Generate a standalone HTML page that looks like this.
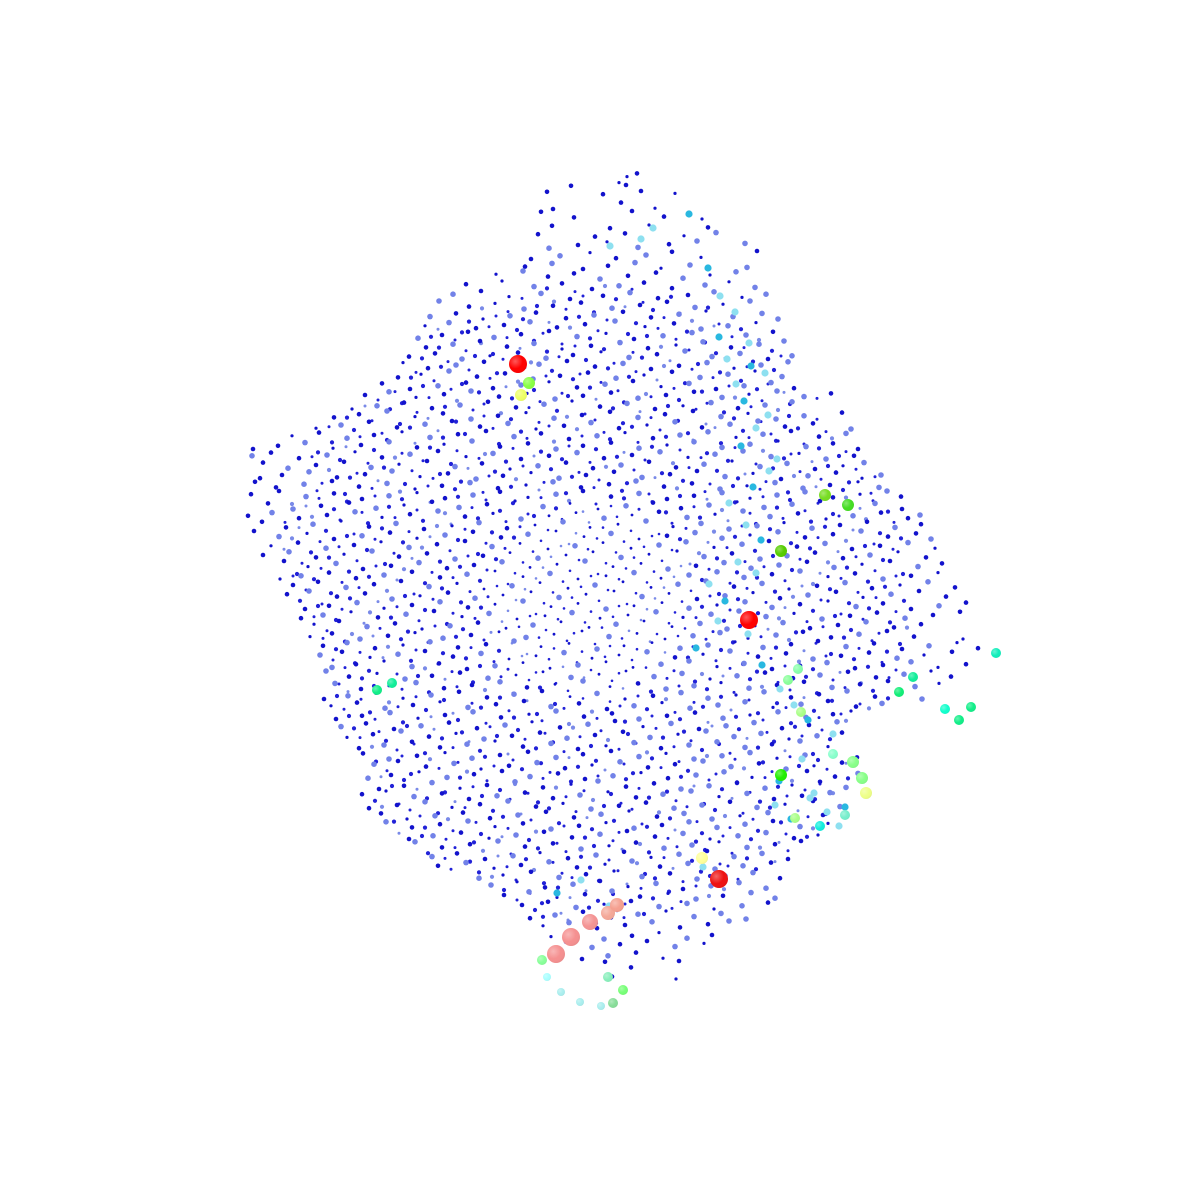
<!DOCTYPE html>
<html><head><meta charset="utf-8"><style>html,body{margin:0;background:#fff}svg{display:block}</style></head>
<body>
<svg id="chart" width="1200" height="1200" viewBox="0 0 1200 1200">
<defs>
<radialGradient id="shade" cx="35%" cy="35%" r="70%"><stop offset="0" stop-color="#fff" stop-opacity="0.35"/><stop offset="0.6" stop-color="#fff" stop-opacity="0"/><stop offset="1" stop-color="#000" stop-opacity="0.05"/></radialGradient>
</defs>
<g id="cloud"></g>
<g id="special"></g>
</svg>
<script>
const rowY = [16,17,18,19,20,21,22,23,24,25,26,27,28,29,30,31,32,33,34,35,36,37,38,39,40,41,42,43,44,45,46,47,48,49,50,51,52,53,54,55,56,57,58,59,60,61,62,63,64,65,66,67,68,69,70,71,72,73,74,75,76,77,78,79,80,81,82,83,84,85,86,87,88,89,90,91,92,93,94,95,96,97,98];
const rowX = [
[62.7,63.7,64.7],
[57.1,61.9,66.0,62.6],
[54.7,56.8,60.3,64.1,66.8,67.5],
[55.3,58.6,62.1,65.5,69.1],
[54.1,57.4,59.8,63.2,66.4,68.7,70.2],
[55.2,58.0,61.0,64.9,67.9,70.8],
[53.8,56.3,59.5,62.5,65.3,68.4,71.6],
[54.9,57.8,60.7,63.8,66.9,69.7,72.8,74.5],
[53.1,56.0,59.0,61.6,64.6,67.2,70.1,73.4,75.7],
[52.5,55.2,58.3,60.8,63.5,66.1,69.0,71.8,74.7],
[49.6,52.3,54.8,57.4,60.0,62.8,65.6,68.3,71.0,73.6,76.0],
[46.6,50.2,53.4,56.2,59.2,61.9,64.4,67.2,70.5,72.9,75.5],
[45.3,48.1,50.9,54.1,57.0,60.3,63.0,65.8,68.8,71.4,74.2,76.6],
[43.9,46.9,49.5,52.4,55.3,58.1,61.2,64.0,66.7,69.5,72.3,75.0],
[43.0,45.6,48.3,51.0,53.6,56.6,59.4,62.3,65.1,67.9,70.6,73.3,76.2,77.8],
[42.5,44.9,47.6,50.4,53.0,55.7,58.5,61.5,64.5,67.4,70.1,72.8,75.6],
[41.8,44.2,46.8,49.4,52.1,54.9,57.7,60.6,63.4,66.3,69.2,71.9,74.6,77.3],
[42.6,45.3,48.0,50.7,53.4,56.2,59.1,62.0,64.8,67.6,70.3,73.1,75.9,78.4],
[40.9,43.5,46.2,49.0,51.8,54.6,57.3,60.1,62.9,65.7,68.5,71.2,74.0,76.8,79.2],
[40.3,42.8,45.6,48.4,51.2,53.9,56.7,59.5,62.3,65.1,67.9,70.7,73.4,76.1,78.8],
[39.8,42.1,44.9,47.7,50.5,53.3,56.0,58.8,61.6,64.4,67.2,70.0,72.8,75.5,78.2],
[38.2,41.0,43.8,46.6,49.3,52.1,54.9,57.7,60.5,63.3,66.1,68.9,71.6,74.4,77.1,79.4],
[36.5,38.9,41.6,44.4,47.1,49.9,52.7,55.5,58.3,61.1,63.8,66.6,69.4,72.2,74.9,77.7,80.4,83.1],
[35.2,37.7,40.4,43.2,46.0,48.8,51.6,54.4,57.2,60.0,62.7,65.5,68.3,71.1,73.8,76.5,79.2],
[33.4,35.9,38.7,41.5,44.3,47.1,49.8,52.6,55.4,58.2,61.0,63.8,66.5,69.3,72.1,74.8,77.6,80.4,84.2],
[31.6,34.1,36.9,39.7,42.5,45.2,48.0,50.8,53.6,56.4,59.1,61.9,64.7,67.5,70.2,73.0,75.8,78.5,81.3,85.1],
[29.2,31.9,34.7,37.4,40.2,43.0,45.8,48.6,51.4,54.1,56.9,59.7,62.5,65.3,68.0,70.8,73.6,76.3,79.1,81.9,84.6],
[25.3,27.8,30.5,33.3,36.1,38.9,41.7,44.4,47.2,50.0,52.8,55.6,58.3,61.1,63.9,66.7,69.4,72.2,75.0,77.8,80.6,83.3,85.8],
[25.2,27.1,29.9,32.7,35.5,38.2,41.0,43.8,46.6,49.3,52.1,54.9,57.7,60.4,63.2,66.0,68.8,71.5,74.3,77.1,79.9,82.6,85.4],
[26.3,28.8,31.6,34.4,37.1,39.9,42.7,45.5,48.2,51.0,53.8,56.6,59.3,62.1,64.9,67.6,70.4,73.2,76.0,78.7,81.5,84.3,86.4],
[26.0,28.2,30.9,33.7,36.5,39.2,42.0,44.8,47.6,50.3,53.1,55.9,58.6,61.4,64.2,67.0,69.7,72.5,75.3,78.1,80.8,83.6,86.2,88.1],
[25.5,27.6,30.4,33.2,35.9,38.7,41.5,44.2,47.0,49.8,52.6,55.3,58.1,60.9,63.6,66.4,69.2,72.0,74.7,77.5,80.3,83.0,85.8,87.9],
[25.1,27.9,30.6,33.4,36.2,38.9,41.7,44.5,47.3,50.0,52.8,55.6,58.3,61.1,63.9,66.7,69.4,72.2,75.0,77.7,80.5,83.3,86.0,88.7,90.1],
[26.8,29.3,32.1,34.9,37.6,40.4,43.2,45.9,48.7,51.5,54.3,57.0,59.8,62.6,65.3,68.1,70.9,73.7,76.4,79.2,82.0,84.7,87.5,90.2],
[24.8,27.2,29.9,32.7,35.5,38.2,41.0,43.8,46.5,49.3,52.1,54.9,57.6,60.4,63.2,65.9,68.7,71.5,74.3,77.0,79.8,82.6,85.3,88.1,90.8,92.0],
[26.2,28.6,31.3,34.1,36.9,39.6,42.4,45.2,47.9,50.7,53.5,56.3,59.0,61.8,64.6,67.3,70.1,72.9,75.7,78.4,81.2,84.0,86.7,89.5,92.1],
[25.4,27.9,30.7,33.4,36.2,39.0,41.7,44.5,47.3,50.1,52.8,55.6,58.4,61.1,63.9,66.7,69.5,72.2,75.0,77.8,80.5,83.3,86.1,88.8,91.6,93.1],
[27.1,29.8,32.6,35.4,38.1,40.9,43.7,46.5,49.2,52.0,54.8,57.5,60.3,63.1,65.9,68.6,71.4,74.2,76.9,79.7,82.5,85.2,88.0,90.8,93.5],
[26.3,28.9,31.6,34.4,37.2,39.9,42.7,45.5,48.3,51.0,53.8,56.6,59.3,62.1,64.9,67.7,70.4,73.2,76.0,78.7,81.5,84.3,87.0,89.8,92.6,94.6],
[28.4,30.8,33.6,36.3,39.1,41.9,44.7,47.4,50.2,53.0,55.7,58.5,61.3,64.1,66.8,69.6,72.4,75.1,77.9,80.7,83.4,86.2,89.0,91.8,94.2],
[28.0,30.1,32.9,35.6,38.4,41.2,44.0,46.7,49.5,52.3,55.0,57.8,60.6,63.4,66.1,68.9,71.7,74.4,77.2,80.0,82.8,85.5,88.3,91.1,93.8,95.9],
[29.3,31.8,34.6,37.4,40.1,42.9,45.7,48.4,51.2,54.0,56.8,59.5,62.3,65.1,67.8,70.6,73.4,76.2,78.9,81.7,84.5,87.2,90.0,92.8,95.5],
[28.7,30.9,33.7,36.5,39.2,42.0,44.8,47.5,50.3,53.1,55.9,58.6,61.4,64.2,66.9,69.7,72.5,75.3,78.0,80.8,83.6,86.3,89.1,91.9,94.6,96.8],
[30.5,32.9,35.7,38.4,41.2,44.0,46.8,49.5,52.3,55.1,57.8,60.6,63.4,66.2,68.9,71.7,74.5,77.2,80.0,82.8,85.6,88.3,91.1,93.9,96.6],
[30.1,32.3,35.1,37.8,40.6,43.4,46.2,48.9,51.7,54.5,57.2,60.0,62.8,65.6,68.3,71.1,73.9,76.6,79.4,82.2,85.0,87.7,90.5,93.3,96.0,97.2],
[31.4,33.9,36.7,39.5,42.2,45.0,47.8,50.6,53.3,56.1,58.9,61.6,64.4,67.2,70.0,72.7,75.5,78.3,81.0,83.8,86.6,89.4,92.1,94.9],
[31.0,33.2,36.0,38.8,41.5,44.3,47.1,49.9,52.6,55.4,58.2,60.9,63.7,66.5,69.3,72.0,74.8,77.6,80.3,83.1,85.9,88.7,91.4,94.2,96.3],
[32.3,34.7,37.5,40.3,43.0,45.8,48.6,51.4,54.1,56.9,59.7,62.4,65.2,68.0,70.8,73.5,76.3,79.1,81.8,84.6,87.4,90.2,92.9,95.7,97.8],
[32.0,34.2,37.0,39.8,42.5,45.3,48.1,50.9,53.6,56.4,59.2,61.9,64.7,67.5,70.3,73.0,75.8,78.6,81.3,84.1,86.9,89.7,92.4,95.2],
[33.2,35.6,38.4,41.2,43.9,46.7,49.5,52.3,55.0,57.8,60.6,63.3,66.1,68.9,71.7,74.4,77.2,80.0,82.7,85.5,88.3,91.1,93.8,96.6],
[32.6,34.9,37.7,40.5,43.2,46.0,48.8,51.6,54.3,57.1,59.9,62.6,65.4,68.2,71.0,73.7,76.5,79.3,82.0,84.8,87.6,90.4,93.1,95.1],
[33.5,36.1,38.9,41.6,44.4,47.2,50.0,52.7,55.5,58.3,61.0,63.8,66.6,69.4,72.1,74.9,77.7,80.4,83.2,86.0,88.8,91.5,93.9],
[32.4,34.8,37.6,40.3,43.1,45.9,48.7,51.4,54.2,57.0,59.7,62.5,65.3,68.1,70.8,73.6,76.4,79.1,81.9,84.7,87.5,90.1,92.2],
[33.1,35.7,38.5,41.3,44.0,46.8,49.6,52.4,55.1,57.9,60.7,63.4,66.2,69.0,71.8,74.5,77.3,80.1,82.8,85.6,88.2],
[33.6,36.2,39.0,41.8,44.5,47.3,50.1,52.9,55.6,58.4,61.2,63.9,66.7,69.5,72.3,75.0,77.8,80.6,83.3,85.1],
[34.1,36.6,39.4,42.1,44.9,47.7,50.5,53.2,56.0,58.8,61.5,64.3,67.1,69.9,72.6,75.4,78.2,80.9,83.7],
[34.7,37.3,40.1,42.9,45.6,48.4,51.2,54.0,56.7,59.5,62.3,65.0,67.8,70.6,73.4,76.1,78.9,81.7,84.2],
[35.9,38.4,41.2,44.0,46.7,49.5,52.3,55.1,57.8,60.6,63.4,66.1,68.9,71.7,74.5,77.2,80.0,82.8],
[36.3,38.9,41.7,44.5,47.2,50.0,52.8,55.6,58.3,61.1,63.9,66.6,69.4,72.2,75.0,77.7,80.5,83.3,85.7],
[37.4,39.8,42.6,45.4,48.1,50.9,53.7,56.5,59.2,62.0,64.8,67.5,70.3,73.1,75.9,78.6,81.4,84.2],
[36.8,39.1,41.9,44.7,47.4,50.2,53.0,55.8,58.5,61.3,64.1,66.8,69.6,72.4,75.2,77.9,80.7,83.5,85.8],
[37.9,40.4,43.2,46.0,48.7,51.5,54.3,57.1,59.8,62.6,65.4,68.1,70.9,73.7,76.5,79.2,82.0,84.6],
[36.2,38.6,41.4,44.2,46.9,49.7,52.5,55.3,58.0,60.8,63.6,66.3,69.1,71.9,74.7,77.4,80.2,83.0],
[36.9,39.7,42.5,45.2,48.0,50.8,53.6,56.3,59.1,61.9,64.6,67.4,70.2,73.0,75.7,78.5,81.3,84.0],
[38.1,40.7,43.5,46.3,49.0,51.8,54.6,57.4,60.1,62.9,65.7,68.4,71.2,74.0,76.8,79.5,82.3],
[38.6,41.2,44.0,46.8,49.5,52.3,55.1,57.9,60.6,63.4,66.2,68.9,71.7,74.5,77.3,80.0,82.8],
[40.9,43.3,46.1,48.9,51.6,54.4,57.2,60.0,62.7,65.5,68.3,71.0,73.8,76.6,79.4,81.8],
[41.5,44.2,47.0,49.8,52.5,55.3,58.1,60.9,63.6,66.4,69.2,71.9,74.7,77.5,80.1],
[43.2,45.7,48.5,51.3,54.0,56.8,59.6,62.4,65.1,67.9,70.7,73.4,76.2,78.8],
[43.8,46.6,49.4,52.1,54.9,57.7,60.5,63.2,66.0,68.8,71.5,74.3,77.1],
[47.9,50.3,53.1,55.9,58.6,61.4,64.2,67.0,69.7,72.5,75.3,78.0],
[49.1,51.7,54.5,57.3,60.0,62.8,65.6,68.3,71.1,73.9,76.6],
[50.4,52.9,55.7,58.5,61.2,64.0,66.8,69.6,72.3,75.1,77.5],
[52.2,54.8,57.6,60.4,63.1,65.9,68.7,71.4,74.2,76.8],
[53.0,55.5,58.3,61.1,63.8,66.6,69.4,72.1,74.6],
[54.3,56.9,59.7,62.5,65.2,68.0,70.8,72.9],
[55.1,57.6,60.4,63.2,65.9,68.7,71.2],
[56.6,59.2,62.0,64.7,67.5,70.4],
[58.2,60.8,63.6,66.3,68.9],
[60.5,63.1,65.8,67.9],
[61.2,64.4,67.6]
];
const ridgeX = [70.8,72.0,73.5,71.9,74.9,72.7,75.1,73.6,76.5,74.4,76.8,75.6,74.1,77.7,76.9,75.3,72.9,74.6,76.1,73.8,70.9,72.5,75.6,74.8,76.2,78.0,79.4,80.8,83.3,80.2,77.9,61.0,64.1,68.9,65.3,58.1,55.7,60.9,70.3,69.6,71.8,77.5,79.1,81.4,82.7,84.5,83.9,81.0];
const ridgeY = [26.8,29.6,31.2,33.7,34.3,35.9,36.6,38.4,37.3,40.1,41.5,42.8,44.6,45.9,47.1,48.7,50.3,52.5,54.0,56.2,58.4,60.1,57.3,63.4,66.5,68.9,70.5,72.0,73.4,75.9,78.1,24.6,23.9,21.4,22.8,88.0,89.3,90.6,86.7,64.8,62.1,80.5,81.9,79.3,81.2,80.7,82.6,79.8];
const hiX = [51.8,74.9,71.9,55.6,57.1,59.0,60.8,61.7,52.9,52.1,82.5,84.8,78.1,78.1,85.3,86.2,86.6,70.2,37.7,39.2,89.9,91.3,95.9,97.1,94.5,99.6,62.3,61.3,60.1,58.0,56.1,54.7,54.2,60.8,80.1,78.8,79.5,83.3,84.5,79.8,82.0];
const hiY = [36.4,62.0,87.9,95.4,93.7,92.2,91.3,90.5,38.3,39.5,49.5,50.5,55.1,77.5,76.2,77.8,79.3,85.8,69.0,68.3,69.2,67.7,72.0,70.7,70.9,65.3,99.0,100.3,100.6,100.2,99.2,97.7,96.0,97.7,71.2,68.0,81.8,75.4,81.5,66.9,82.6];
const hiSize = [9,9,9,9,9,8,7,7,6,6,6,6,6,6,6,6,6,6,5,5,5,5,5,5,5,5,5,5,4,4,4,4,5,5,5,5,5,5,5,5,5];
const hiColor = ['#f00','#f00','#e11','#f59090','#f59090','#f49494','#f4a898','#f5a090','#8f4','#ef6','#7d2','#4d2','#5c0','#2e0','#8f8','#8f8','#ef8','#ff9','#1e8','#1e9','#1e7','#1e9','#1e8','#1e8','#1fc','#1eb','#7f7','#8d9','#aee','#aee','#aee','#aff','#8f9','#8eb','#af8','#8f9','#af8','#8fc','#7ec','#8fa','#1ed'];

const xs = v => v * 10;
const ys = v => v * 10;
const NS = 'http://www.w3.org/2000/svg';
const cloud = document.getElementById('cloud');
let k = 0;
rowX.forEach((xsRow, i) => {
  const y = rowY[i] + 1.5;
  xsRow.forEach((x) => {
    k++;
    const off = ((k * 7) % 11 - 5) * 0.08;
    const dist = Math.hypot(x - 58, y - 60);
    if (dist > 36 && k % 3 === 0) return;
    const c = document.createElementNS(NS, 'circle');
    
    
    c.setAttribute('cx', xs(x));
    c.setAttribute('cy', ys(y + off));
    const light = (k % 3 === 0) || (x > 68 && x < 78 && k % 2 === 0);
    c.setAttribute('r', light ? 2.8 : (dist < 10 ? 1.4 : (k % 4 === 1 ? 1.6 : 2.3)));
    c.setAttribute('fill', light ? '#7282e8' : '#1212cc');
    cloud.appendChild(c);
    if (dist < 32 && x + 1.3 < xsRow[xsRow.length - 1] + 0.5) {
      const d = document.createElementNS(NS, 'circle');
      
      
      d.setAttribute('cx', xs(x + 1.3));
      d.setAttribute('cy', ys(y + 0.5 - off));
      d.setAttribute('r', dist < 10 ? 1.3 : (k % 2 ? 1.5 : 2.1));
      d.setAttribute('fill', k % 5 === 0 ? '#7a8ae8' : '#2222d8');
      cloud.appendChild(d);
    }
  });
});
const special = document.getElementById('special');
ridgeX.forEach((x, i) => {
  const c = document.createElementNS(NS, 'circle');
  
  
  c.setAttribute('cx', xs(x));
  c.setAttribute('cy', ys(ridgeY[i]));
  c.setAttribute('r', 3.6);
  c.setAttribute('fill', i % 3 === 0 ? '#29b8e0' : '#8ee0f0');
  special.appendChild(c);
});
hiX.forEach((x, i) => {
  const c = document.createElementNS(NS, 'circle');
  
  
  c.setAttribute('cx', xs(x));
  c.setAttribute('cy', ys(hiY[i]));
  c.setAttribute('r', hiSize[i]);
  c.setAttribute('fill', hiColor[i]);
  special.appendChild(c);
  const s = document.createElementNS(NS, 'circle');
  
  
  s.setAttribute('cx', xs(x));
  s.setAttribute('cy', ys(hiY[i]));
  s.setAttribute('r', hiSize[i]);
  s.setAttribute('fill', 'url(#shade)');
  special.appendChild(s);
});
</script>
</body></html>
